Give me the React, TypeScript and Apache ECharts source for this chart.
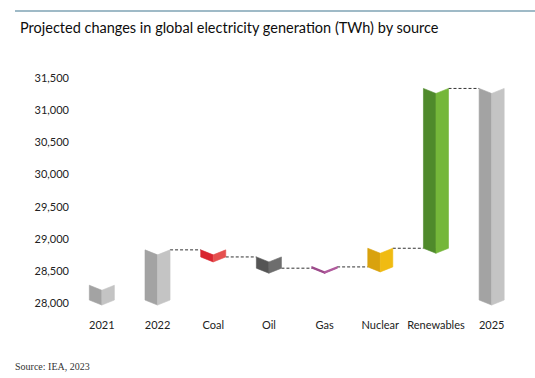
import React, { useEffect, useRef } from "react";
import * as echarts from "echarts";

const categories = ["2021", "2022", "Coal", "Oil", "Gas", "Nuclear", "Renewables", "2025"];
// kind: "total" bars start at the axis base, "change" bars float on the running total
const kinds = ["total", "total", "change", "change", "change", "change", "change", "total"];
const values = [28230, 28780, -110, -175, 20, 290, 2485, 31290];
const leftColors = ["#a3a3a3", "#a3a3a3", "#d92530", "#555555", "#9c4a8a", "#d9a20e", "#4f8a2b", "#a3a3a3"];
const rightColors = ["#c4c4c4", "#c4c4c4", "#e5504f", "#6d6d6d", "#b05a9c", "#f0bb12", "#75b73a", "#c4c4c4"];
const yTicks = [28000, 28500, 29000, 29500, 30000, 30500, 31000, 31500];
const baseValue = 28000;

export default function App() {
  const ref = useRef<HTMLDivElement>(null);
  useEffect(() => {
    if (!ref.current) return;
    const chart = echarts.init(ref.current, null, { renderer: "svg" });

    const bars: number[][] = [];
    let running = 0;
    values.forEach((v, i) => {
      if (kinds[i] === "total") {
        bars.push([i, baseValue, v]);
        running = v;
      } else {
        const start = running;
        const end = running + v;
        bars.push([i, Math.min(start, end), Math.max(start, end)]);
        running = end;
      }
    });
    const connectors: number[][] = [];
    let run2 = 0;
    values.forEach((v, i) => {
      if (kinds[i] === "total") run2 = v;
      else run2 = run2 + v;
      if (i >= 1 && i < values.length - 1) connectors.push([i, run2]);
    });

    const depth = 2.5;
    const renderBar = (params: any, api: any) => {
      const i = api.value(0);
      const lo = api.value(1);
      const hi = api.value(2);
      const band = api.size([1, 0])[0];
      const half = band * 0.225;
      const pTop = api.coord([i, hi]);
      const pBot = api.coord([i, lo]);
      const xc = pTop[0];
      const xl = xc - half;
      const xr = xc + half;
      const yt = pTop[1];
      const yb = pBot[1];
      const lw = i === 4 ? 1.2 : 0.6;
      return {
        type: "group",
        children: [
          {
            type: "polygon",
            shape: { points: [[xl, yt - depth], [xc, yt + depth], [xc, yb + depth], [xl, yb - depth]] },
            style: { fill: leftColors[i], stroke: leftColors[i], lineWidth: lw },
          },
          {
            type: "polygon",
            shape: { points: [[xc, yt + depth], [xr, yt - depth], [xr, yb - depth], [xc, yb + depth]] },
            style: { fill: rightColors[i], stroke: rightColors[i], lineWidth: lw },
          },
        ],
      };
    };
    const renderConn = (params: any, api: any) => {
      const i = api.value(0);
      const lvl = api.value(1);
      const band = api.size([1, 0])[0];
      const half = band * 0.225;
      const p = api.coord([i, lvl]);
      const p2 = api.coord([i + 1, lvl]);
      return {
        type: "line",
        shape: { x1: p[0] + half, y1: p[1] - depth, x2: p2[0] - half, y2: p2[1] - depth },
        style: { stroke: "#333333", lineWidth: 1, lineDash: [3, 2] },
      };
    };

    chart.setOption({
      animation: false,
      title: {
        text: "Projected changes in global electricity generation (TWh) by source",
        left: 15,
        top: 15,
        textStyle: { fontFamily: "Lato", fontSize: 14.5, fontWeight: "normal", color: "#0d0d0d" },
      },
      graphic: [
        { type: "line", shape: { x1: 15, y1: 11, x2: 535, y2: 11 }, style: { stroke: "#7fa3b4", lineWidth: 1.5 } },
        {
          type: "text",
          left: 15,
          top: 361,
          style: { text: "Source: IEA, 2023", font: '10px "Liberation Serif"', fill: "#333333" },
        },
      ],
      grid: { left: 74, right: 15.5, top: 71, bottom: 62.6 },
      xAxis: {
        type: "category",
        data: categories,
        axisLine: { show: false },
        axisTick: { show: false },
        axisLabel: { fontFamily: "Lato", fontSize: 11, color: "#222222", margin: 4, interval: 0 },
      },
      yAxis: {
        type: "value",
        min: 27800,
        max: 31600,
        splitLine: { show: false },
        axisLine: { show: false },
        axisTick: { show: false },
        axisLabel: {
          customValues: yTicks,
          fontFamily: "Lato",
          fontSize: 11,
          color: "#222222",
          margin: 5,
          formatter: (v: number) => v.toLocaleString("en-US"),
        },
      },
      series: [
        {
          type: "custom",
          renderItem: renderConn,
          data: connectors,
          encode: { x: 0, y: 1 },
          clip: false,
          silent: true,
        },
        {
          type: "custom",
          renderItem: renderBar,
          data: bars,
          encode: { x: 0, y: [1, 2] },
          clip: false,
          silent: true,
        },
      ],
    });
    return () => chart.dispose();
  }, []);
  return <div ref={ref} style={{ position: "absolute", left: 0, top: 0, width: 535, height: 378 }} />;
}
